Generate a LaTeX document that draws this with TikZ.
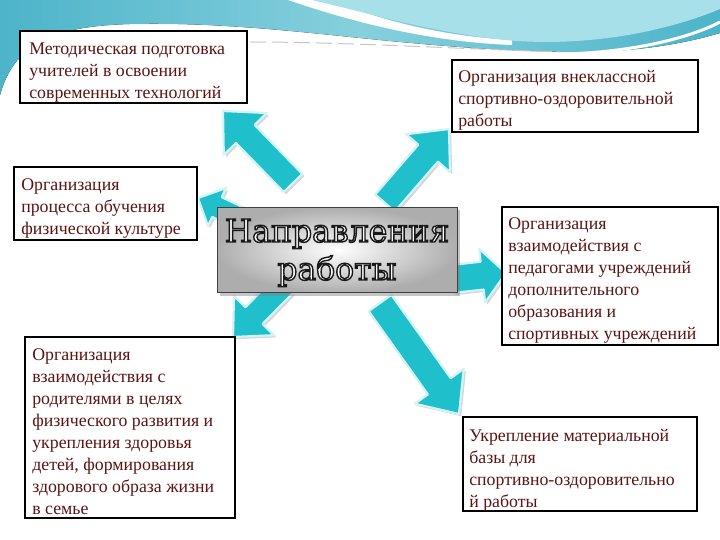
\documentclass[tikz,border=0pt]{standalone}
\usepackage{fontspec}
\setmainfont{Liberation Serif}
\newfontfamily\bigfont{DejaVu Serif}
\usetikzlibrary{calc,shadows}
\definecolor{txt}{HTML}{5A1414}
\definecolor{arr}{HTML}{1FBFCC}
\definecolor{glowc}{HTML}{D2F4F7}
\definecolor{tealA}{HTML}{4DB4C9}
\definecolor{tealB}{HTML}{86D0DD}
\definecolor{lcyan}{HTML}{A8E0E9}
\tikzset{
  boxst/.style={draw=black, line width=1.8pt, fill=white, inner sep=0pt},
  btxt/.style={anchor=west, align=left, text=txt, inner sep=0pt, font=\fontsize{17.8}{22}\selectfont},
  bigt/.style={anchor=base, inner sep=0pt, text=white, font=\bigfont\fontsize{31.5}{31.5}\selectfont},
  arrowst/.style={fill=arr, draw=glowc, line width=2.2pt, line join=round,
    preaction={fill=black!45, opacity=.35, transform canvas={shift={(2.2pt,-2.2pt)}}}},
  centerst/.style={draw=black!75, line width=0.8pt, inner sep=0pt,
    inner color=white, outer color=black!32,
    drop shadow={shadow xshift=2.5pt, shadow yshift=-3pt, opacity=.45}}
}
% #1 tail, #2 tip, #3 half shaft, #4 half head, #5 head length (numbers, in pt)
\newcommand\blkarrow[5]{%
  \coordinate (hb) at ($(#2)!#5pt!(#1)$);
  \path[arrowst] ($(#1)!#3pt!90:(#2)$) -- ($(hb)!#3pt!90:(#2)$) -- ($(hb)!#4pt!90:(#2)$) -- (#2)
     -- ($(hb)!#4pt!-90:(#2)$) -- ($(hb)!#3pt!-90:(#2)$) -- ($(#1)!#3pt!-90:(#2)$) -- cycle;
}
% white letters with a dark outline (text render mode 2: fill and stroke)
\newcommand\outl[1]{\special{pdf:literal direct q 2 Tr 1.4 w 0.1 0.1 0.1 RG}#1\special{pdf:literal direct Q}}
\begin{document}
\begin{tikzpicture}[x=1pt,y=-1pt]
\useasboundingbox (0,0) rectangle (720,540);
\fill[white] (0,0) rectangle (720,540);
% top band
\fill[left color=tealA, right color=tealA, middle color=tealB]
  (0,0) -- (720,0) -- (720,33) .. controls (680,45) and (630,52) .. (580,52)
  .. controls (520,52) and (450,47) .. (380,40) .. controls (300,32) and (220,22) .. (130,24)
  .. controls (60,26) and (15,40) .. (0,95) -- cycle;
\fill[white] (288,0) .. controls (352,22) and (430,42) .. (512,45) -- (512,40) .. controls (440,36) and (380,20) .. (330,0) -- cycle;
\fill[lcyan] (312,0) .. controls (372,14) and (430,32) .. (505,40)
  .. controls (590,48) and (670,30) .. (720,9) -- (720,0) -- cycle;
\draw[black!22, line width=1pt, dash pattern=on 16pt off 6pt] (250,42) .. controls (340,42) and (440,48) .. (560,52);
\draw[white, line width=3pt] (560,54) .. controls (630,53) and (690,38) .. (720,22);
% coordinates for arrows
\coordinate (t1) at (293,183); \coordinate (p1) at (223,111);
\coordinate (t2) at (385,203); \coordinate (p2) at (449,129);
\coordinate (t3) at (240,218); \coordinate (p3) at (198,198);
\coordinate (t4) at (452,279); \coordinate (p4) at (506,273);
\coordinate (t5) at (284,285); \coordinate (p5) at (233,337);
\coordinate (t6) at (380,303); \coordinate (p6) at (459,414);
\blkarrow{t1}{p1}{13}{30}{32}
\blkarrow{t2}{p2}{13}{29}{32}
\blkarrow{t3}{p3}{11}{21}{21}
\blkarrow{t4}{p4}{14}{27}{24}
\blkarrow{t5}{p5}{12}{28}{30}
\blkarrow{t6}{p6}{14}{30}{34}
% center
\node[centerst, minimum width=240pt, minimum height=85pt] (c) at (337,250) {};
\node[bigt] (c1) at (337,242) {\outl{Направления}};
\node[bigt] (c2) at (337,280) {\outl{работы}};
% boxes
\node[boxst, minimum width=227pt, minimum height=72pt] (b1) at (133.5,67) {};
\node[btxt] (x1) at ($(b1.west)+(10,6)$) {Методическая подготовка\\учителей в освоении\\современных технологий};
\node[boxst, minimum width=246pt, minimum height=72pt] (b2) at (575,96) {};
\node[btxt] (x2) at ($(b2.west)+(7,4)$) {Организация внеклассной\\спортивно-оздоровительной\\работы};
\node[boxst, minimum width=183pt, minimum height=73pt] (b3) at (105.5,203.5) {};
\node[btxt] (x3) at ($(b3.west)+(8,5)$) {Организация\\процесса обучения\\физической культуре};
\node[boxst, minimum width=216pt, minimum height=138pt] (b4) at (610,276) {};
\node[btxt] (x4) at ($(b4.west)+(7,5)$) {Организация\\взаимодействия с\\педагогами учреждений\\дополнительного\\образования и\\спортивных учреждений};
\node[boxst, minimum width=210pt, minimum height=181pt] (b5) at (130,427.5) {};
\node[btxt] (x5) at ($(b5.west)+(8,4)$) {Организация\\взаимодействия с\\родителями в целях\\физического развития и\\укрепления здоровья\\детей, формирования\\здорового образа жизни\\в семье};
\node[boxst, minimum width=234pt, minimum height=94pt] (b6) at (580,464) {};
\node[btxt] (x6) at ($(b6.west)+(7,6)$) {Укрепление материальной\\базы для\\спортивно-оздоровительно\\й работы};
\end{tikzpicture}
\end{document}
